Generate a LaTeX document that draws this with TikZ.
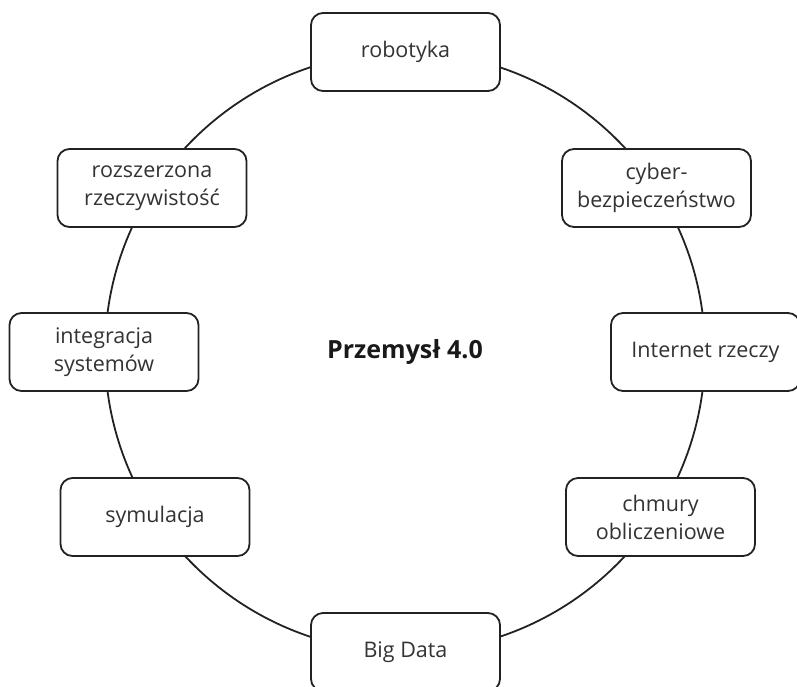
\documentclass[tikz,border=0pt]{standalone}
\usepackage{fontspec}
\setmainfont{Open Sans}
\usepackage{tikz}
\definecolor{txtgray}{HTML}{333333}
\definecolor{linegray}{HTML}{222222}
\begin{document}
\begin{tikzpicture}[x=1pt,y=-1pt]
\tikzstyle{every node}=[font=\fontsize{21.5}{28}\selectfont,text=txtgray]
\tikzstyle{topic}=[draw=linegray,line width=1.8pt,rounded corners=12pt,fill=white,minimum width=189pt,minimum height=78pt,align=center,inner sep=0pt]
\path[use as bounding box,clip](0,0) rectangle (797,686);
% ring behind the boxes
\draw[linegray,line width=1.8pt](405,352) circle (300pt);

\node[topic] (robotyka) at (405.5,52) {robotyka};
\node[topic] (cyber) at (656.5,188) {cyber-\\bezpieczeństwo};
\node[topic] (iot) at (705.5,352) {Internet rzeczy};
\node[topic] (chmury) at (660.5,517) {chmury\\obliczeniowe};
\node[topic] (bigdata) at (405.5,652) {Big Data};
\node[topic] (symulacja) at (155,517) {symulacja};
\node[topic] (integracja) at (104,352) {integracja\\systemów};
\node[topic] (ar) at (152,188) {rozszerzona\\rzeczywistość};

\node[font=\bfseries\fontsize{25}{30}\selectfont,text=black!90] (przemysl) at (405,352) {Przemysł 4.0};
\end{tikzpicture}
\end{document}
